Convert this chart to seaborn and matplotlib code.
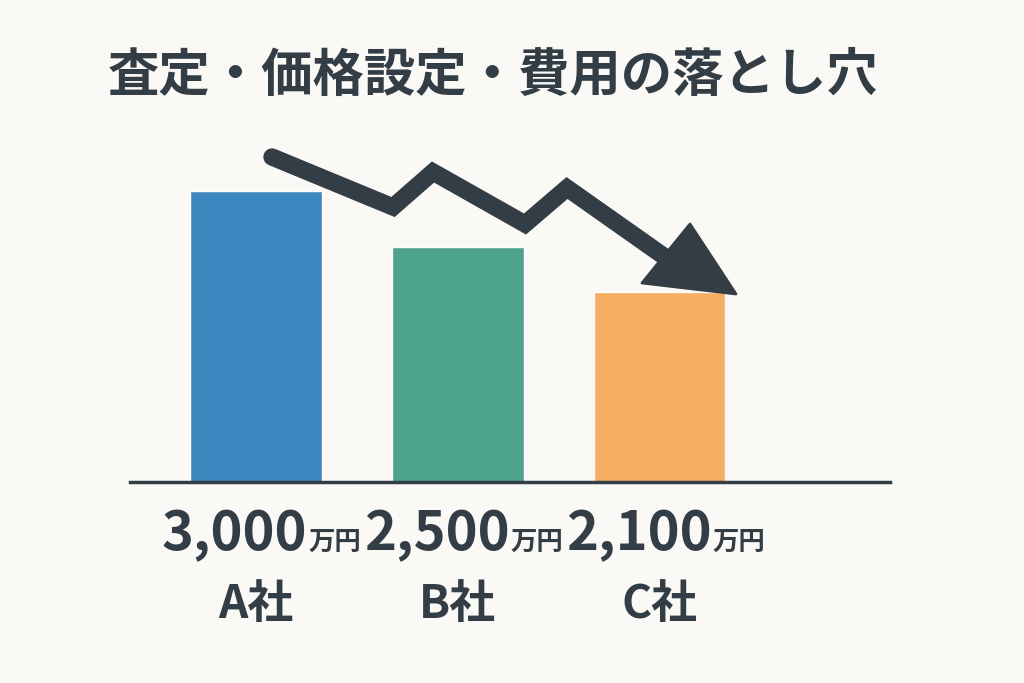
import matplotlib
matplotlib.use("Agg")
import matplotlib.pyplot as plt
import seaborn as sns
import pandas as pd
from matplotlib.lines import Line2D
from matplotlib.patches import Polygon

companies = ["A社", "B社", "C社"]
values = [3000, 2500, 2100]
value_labels = ["3,000", "2,500", "2,100"]
unit = "万円"
title = "査定・価格設定・費用の落とし穴"
colors = ["#3D87C1", "#4EA38B", "#F5AE62"]

BG = "#FBF9F6"
DARK = "#333D45"

sns.set_theme(style="white")
plt.rcParams["font.family"] = ["Noto Sans CJK JP", "DejaVu Sans"]

df = pd.DataFrame({"company": companies, "value": values})

fig = plt.figure(figsize=(10.24, 6.83), dpi=100, facecolor=BG)
ax = fig.add_axes([130/1024, 201/683, 760/1024, 352/683])
ax.set_facecolor(BG)

sns.barplot(data=df, x="company", y="value", hue="company", palette=colors,
            width=0.65, saturation=1, legend=False, ax=ax)

ax.set_xlim(-0.624, 3.14)
ax.set_ylim(400, 3545)
for s in ["top", "right", "left"]:
    ax.spines[s].set_visible(False)
ax.spines["bottom"].set_color(DARK)
ax.spines["bottom"].set_linewidth(2.5)
ax.set_xticks([])
ax.set_yticks([])
ax.set_xlabel("")
ax.set_ylabel("")

for i, (lab, comp) in enumerate(zip(value_labels, companies)):
    ax.annotate(lab, xy=(i, 0), xycoords=("data", "axes fraction"),
                xytext=(37, -49), textcoords="offset points",
                ha="right", va="baseline", fontsize=39, fontweight="bold",
                color=DARK, annotation_clip=False)
    ax.annotate(unit, xy=(i, 0), xycoords=("data", "axes fraction"),
                xytext=(38, -49), textcoords="offset points",
                ha="left", va="baseline", fontsize=19, fontweight="bold",
                color=DARK, annotation_clip=False)
    ax.annotate(comp, xy=(i, 0), xycoords=("data", "axes fraction"),
                xytext=(0, -98), textcoords="offset points",
                ha="center", va="baseline", fontsize=33, fontweight="bold",
                color=DARK, annotation_clip=False)

fig.text(108/1024, 1 - 75/683, title, ha="left", va="center",
         fontsize=37, fontweight="bold", color=DARK)

# decorative downward zigzag arrow (figure pixel coords -> fractions)
path_px = [(272, 157), (393, 207), (433, 172), (525, 224), (567, 188), (672, 262)]
xs = [p[0]/1024 for p in path_px]
ys = [1 - p[1]/683 for p in path_px]
fig.add_artist(Line2D(xs, ys, transform=fig.transFigure, color=DARK,
                      linewidth=12.5, solid_joinstyle="miter", solid_capstyle="round"))
head_px = [(642, 283), (736, 294), (690, 224)]
fig.add_artist(Polygon([(x/1024, 1 - y/683) for x, y in head_px], closed=True,
                       transform=fig.transFigure, facecolor=DARK, edgecolor=DARK,
                       linewidth=2, joinstyle="round"))

fig.savefig("out.png", dpi=100, facecolor=BG)
